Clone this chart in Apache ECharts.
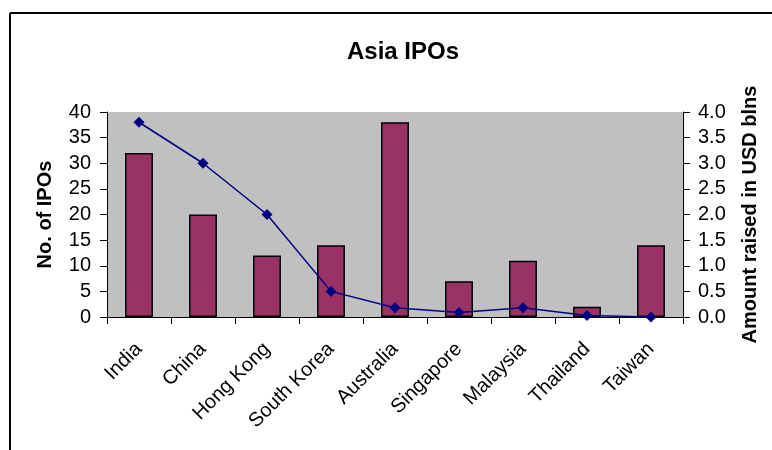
<!DOCTYPE html>
<html>
<head>
<meta charset="utf-8">
<script src="https://cdn.jsdelivr.net/npm/echarts@6/dist/echarts.min.js"></script>
<style>
body{margin:0; background:#fff;}
#container{width:772px; height:450px;}
</style>
</head>
<body>
<div id="container"></div>
<script type="text/javascript">
	var countries = ['India', 'China', 'Hong Kong', 'South Korea', 'Australia', 'Singapore', 'Malaysia', 'Thailand', 'Taiwan'];
	var ipoCount = [32, 20, 12, 14, 38, 7, 11, 2, 14];
	var amountRaised = [3.8, 3.0, 2.0, 0.5, 0.18, 0.09, 0.18, 0.03, 0.0];

	var font = 'Arial, "Liberation Sans", sans-serif';
	var myChart = echarts.init(document.getElementById('container'));
	var option = {
		animation: false,
		title: {
			text: 'Asia IPOs',
			left: 398,
			textAlign: 'center',
			top: 35,
			textStyle: {fontFamily: font, fontSize: 24, fontWeight: 'bold', color: '#000'}
		},
		graphic: [
			{type: 'line', shape: {x1: 10, y1: 13, x2: 772, y2: 13}, style: {stroke: '#000', lineWidth: 2}},
			{type: 'line', shape: {x1: 10, y1: 13, x2: 10, y2: 450}, style: {stroke: '#000', lineWidth: 2}}
		],
		grid: {
			left: 107, right: 89, top: 112, bottom: 133,
			show: true, backgroundColor: '#c0c0c0', borderWidth: 0
		},
		xAxis: {
			type: 'category',
			data: countries,
			axisLine: {lineStyle: {color: '#000', width: 1}},
			axisTick: {show: true, length: 7, lineStyle: {color: '#000'}},
			axisLabel: {
				rotate: 45, interval: 0, margin: 29,
				fontFamily: font, fontSize: 20, color: '#000'
			}
		},
		yAxis: [
			{
				type: 'value',
				min: 0, max: 40, interval: 5,
				name: 'No. of IPOs',
				nameLocation: 'middle',
				nameGap: 52,
				nameTextStyle: {fontFamily: font, fontSize: 20, fontWeight: 'bold', color: '#000'},
				axisLine: {show: true, lineStyle: {color: '#000'}},
				axisTick: {show: true, length: 7, lineStyle: {color: '#000'}},
				splitLine: {show: false},
				axisLabel: {fontFamily: font, fontSize: 20, color: '#000', margin: 16}
			},
			{
				type: 'value',
				min: 0, max: 4, interval: 0.5,
				name: 'Amount raised in USD blns',
				nameLocation: 'middle',
				nameGap: 57,
				nameTextStyle: {fontFamily: font, fontSize: 20, fontWeight: 'bold', color: '#000'},
				axisLine: {show: true, lineStyle: {color: '#000'}},
				axisTick: {show: true, length: 7, lineStyle: {color: '#000'}},
				splitLine: {show: false},
				axisLabel: {
					fontFamily: font, fontSize: 20, color: '#000', margin: 15,
					formatter: function (v) { return v.toFixed(1); }
				}
			}
		],
		series: [
			{
				name: 'No. of IPOs',
				type: 'bar',
				yAxisIndex: 0,
				barWidth: 28,
				data: ipoCount,
				itemStyle: {color: '#993366', borderColor: '#000', borderWidth: 1.5}
			},
			{
				name: 'Amount raised',
				type: 'line',
				yAxisIndex: 1,
				data: amountRaised,
				symbol: 'diamond',
				symbolSize: 11,
				lineStyle: {color: '#000080', width: 1.5},
				itemStyle: {color: '#000080'}
			}
		]
	};
	myChart.setOption(option);
</script>
</body>
</html>
